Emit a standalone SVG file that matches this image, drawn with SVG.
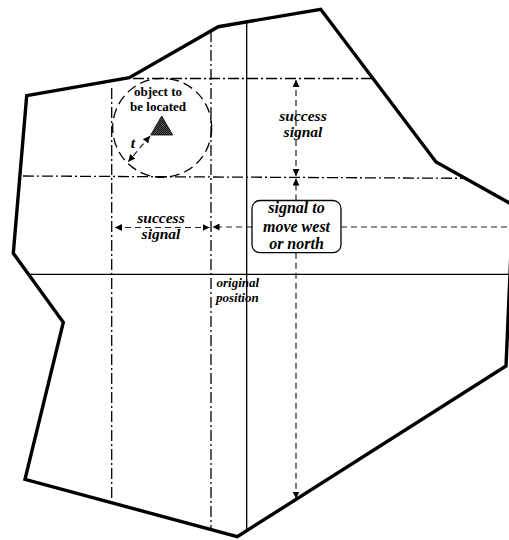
<svg xmlns="http://www.w3.org/2000/svg" width="509" height="540" viewBox="0 0 509 540">
  <style>
    .region { fill: none; stroke: #000; stroke-width: 3.4; stroke-linejoin: miter; }
    .axis { fill: none; stroke: #000; stroke-width: 1.3; }
    .grid { fill: none; stroke: #000; stroke-width: 1.3; stroke-dasharray: 11 3 2 3; }
    .sig { fill: none; stroke: #222; stroke-width: 1.2; stroke-dasharray: 6 4; }
    .range { fill: none; stroke: #000; stroke-width: 1.3; stroke-dasharray: 10 5; }
    .box { fill: #fff; stroke: #000; stroke-width: 1.3; }
    .lbl { font-family: "Liberation Serif", "Times New Roman", serif; font-weight: bold; font-style: italic; font-size: 15.5px; fill: #000; text-anchor: middle; }
    .boxtxt { font-size: 16px; }
    .small { font-family: "Liberation Serif", "Times New Roman", serif; font-weight: bold; font-style: italic; font-size: 13px; fill: #000; }
    .obj { font-family: "Liberation Serif", "Times New Roman", serif; font-weight: bold; font-size: 13px; fill: #000; text-anchor: middle; }
  </style>
  <defs>
    <marker id="head" viewBox="0 0 10 10" refX="10" refY="5" markerWidth="7" markerHeight="7" markerUnits="userSpaceOnUse" orient="auto-start-reverse">
      <path d="M0,0 L10,5 L0,10 z" fill="#000"/>
    </marker>
    <pattern id="hatch" width="2" height="2" patternUnits="userSpaceOnUse">
      <rect width="2" height="2" fill="#555"/>
      <rect width="1" height="1" fill="#111"/>
      <rect x="1" y="1" width="1" height="1" fill="#111"/>
    </pattern>
  </defs>
  <rect width="509" height="540" fill="#fff"/>

  <!-- search region outline -->
  <g id="region">
    <polygon class="region" points="26.7,95.7 129.3,77.7 218.3,26.7 320.7,9.3 436,162 513,205 506,366 237.3,536.7 25,479.3 63.3,322.3 13.3,253.3"/>
  </g>

  <!-- axes through the original position -->
  <g id="axes">
    <line class="axis" x1="246.7" y1="22" x2="246.7" y2="530.7"/>
    <line class="axis" x1="28.5" y1="274.3" x2="509" y2="274.3"/>
  </g>

  <!-- bounding lines of the located zone -->
  <g id="bounds">
    <line class="grid" x1="111.7" y1="88" x2="111.7" y2="502.7"/>
    <line class="grid" x1="211" y1="31" x2="211" y2="529.6"/>
    <line class="grid" x1="133" y1="78.5" x2="373.3" y2="78.5"/>
    <line class="grid" x1="23" y1="176" x2="465" y2="178.3"/>
  </g>

  <!-- object and its tolerance circle -->
  <g id="object">
    <circle class="range" cx="162.2" cy="127.8" r="49.5"/>
    <polygon points="161.7,116 150.7,135 172.7,135" fill="url(#hatch)" stroke="#000" stroke-width="0.8"/>
    <text class="obj" x="158" y="96">object to</text>
    <text class="obj" x="158" y="111">be located</text>
    <text class="lbl" x="133" y="148">t</text>
  </g>

  <!-- signal box -->
  <g id="move-signal">
    <rect class="box" x="252" y="200.5" width="89" height="52.2" rx="8" ry="8"/>
    <text class="lbl boxtxt" x="296.5" y="213.3">signal to</text>
    <text class="lbl boxtxt" x="296.5" y="231.7">move west</text>
    <text class="lbl boxtxt" x="296.5" y="249">or north</text>
  </g>

  <!-- labels -->
  <g id="success-north">
    <text class="lbl" x="303" y="120.7">success</text>
    <text class="lbl" x="303" y="137.3">signal</text>
  </g>
  <g id="success-west">
    <text class="lbl" x="161" y="222.7">success</text>
    <text class="lbl" x="161" y="239.3">signal</text>
  </g>
  <g id="origin">
    <text class="small" x="216.5" y="287.3">original</text>
    <text class="small" x="216" y="301.7">position</text>
  </g>

  <!-- signal connectors -->
  <g id="connectors">
    <line class="sig" x1="150" y1="136" x2="128.3" y2="161.7" marker-start="url(#head)" marker-end="url(#head)"/>
    <line class="sig" x1="296" y1="80" x2="296" y2="176" marker-start="url(#head)" marker-end="url(#head)"/>
    <line class="sig" x1="296" y1="200.5" x2="296" y2="178.5" marker-end="url(#head)"/>
    <line class="sig" x1="296" y1="252.7" x2="296" y2="498.5" marker-end="url(#head)"/>
    <line class="sig" x1="115" y1="227.5" x2="209.5" y2="227.5" marker-start="url(#head)" marker-end="url(#head)"/>
    <line class="sig" x1="252" y1="227" x2="212.5" y2="227" marker-end="url(#head)"/>
    <line class="sig" x1="341" y1="227" x2="509" y2="227"/>
  </g>
</svg>
